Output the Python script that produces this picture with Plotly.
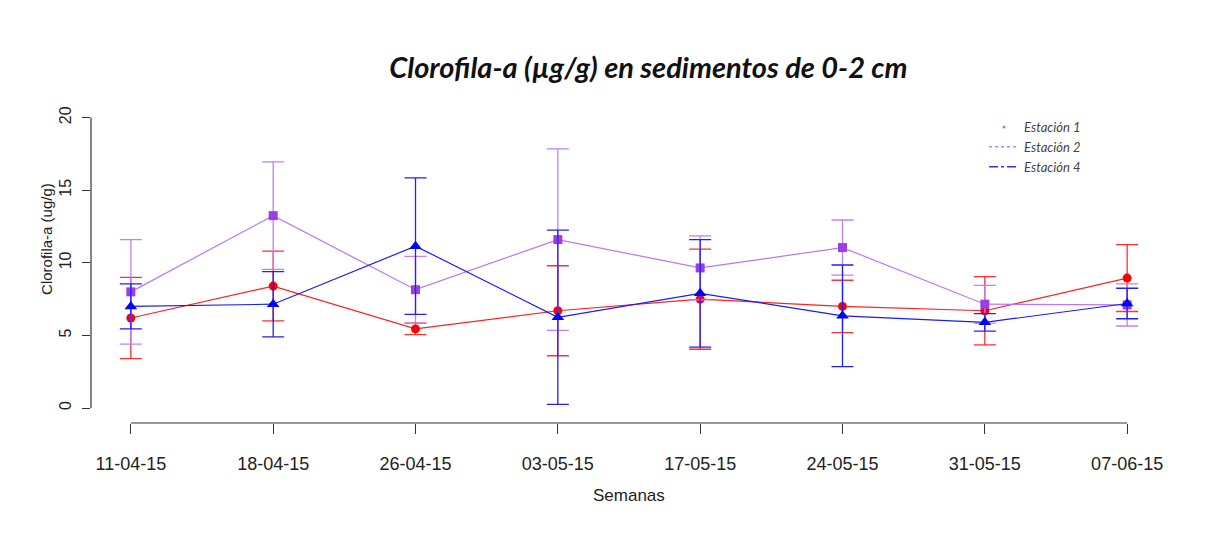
import plotly.graph_objects as go

# Weeks (x categories)
semanas = ['11-04-15', '18-04-15', '26-04-15', '03-05-15',
           '17-05-15', '24-05-15', '31-05-15', '07-06-15']

# Estación 1 - mean and error
est1_media = [6.2, 8.4, 5.45, 6.7, 7.5, 7.0, 6.7, 8.95]
est1_error = [2.8, 2.4, 0.4, 3.1, 3.45, 1.8, 2.35, 2.3]

# Estación 2 - mean and error
est2_media = [8.0, 13.25, 8.15, 11.6, 9.65, 11.05, 7.15, 7.1]
est2_error = [3.6, 3.7, 2.3, 6.25, 2.2, 1.9, 1.3, 1.45]

# Estación 4 - mean and error
est4_media = [7.0, 7.15, 11.15, 6.25, 7.9, 6.35, 5.9, 7.2]
est4_error = [1.55, 2.25, 4.7, 6.0, 3.7, 3.5, 0.6, 1.05]

y_ticks = [0, 5, 10, 15, 20]

AXIS_FONT = 'Liberation Sans, Arial, sans-serif'


# Helper to build one station trace with error bars
def station_trace(media, error, line_color, marker_color, err_color, symbol, size):
    return go.Scatter(
        x=semanas, y=media, mode='lines+markers', showlegend=False,
        line=dict(color=line_color, width=1.2),
        marker=dict(symbol=symbol, size=size, color=marker_color),
        error_y=dict(type='data', array=error, visible=True,
                     color=err_color, thickness=1.3, width=11),
    )


fig = go.Figure()

fig.add_trace(station_trace(est1_media, est1_error, '#FF2020', '#FF0000', '#FF3030', 'circle', 9))
fig.add_trace(station_trace(est2_media, est2_error, '#B877F5', '#9B3FE0', '#C27FFA', 'square', 9))
fig.add_trace(station_trace(est4_media, est4_error, '#1A1AFF', '#0000FF', '#2020FF', 'triangle-up', 11))

# Legend-only entries (line styles as in the original legend)
fig.add_trace(go.Scatter(x=[None], y=[None], mode='markers', name='Estación 1',
                         marker=dict(color='#E07090', size=3)))
fig.add_trace(go.Scatter(x=[None], y=[None], mode='lines', name='Estación 2',
                         line=dict(color='#C080F0', width=1.5, dash='dot')))
fig.add_trace(go.Scatter(x=[None], y=[None], mode='lines', name='Estación 4',
                         line=dict(color='#3030FF', width=1.5, dash='dashdot')))

# Detached R-style axis lines
fig.add_shape(type='line', xref='paper', yref='y', x0=0, x1=0,
              y0=y_ticks[0], y1=y_ticks[-1], line=dict(color='#333333', width=1.2))
fig.add_shape(type='line', xref='x', yref='paper', x0=semanas[0], x1=semanas[-1],
              y0=0, y1=0, line=dict(color='#333333', width=1.2))

# page body adds an 8px offset, margins compensate for it
fig.update_layout(
    width=1206, height=543,
    margin=dict(l=83, r=47, t=98, b=128),
    paper_bgcolor='white', plot_bgcolor='white',
    title=dict(text='<b><i>Clorofila-a (µg/g) en sedimentos de 0-2 cm</i></b>',
               x=0.531, xanchor='center', y=0.89, yanchor='middle', yref='container',
               font=dict(family='Lato, Open Sans, sans-serif', size=29, color='#111111')),
    legend=dict(x=0.83, y=0.981, xanchor='left', yanchor='top',
                bgcolor='rgba(0,0,0,0)', tracegroupgap=0,
                font=dict(family='Lato, Open Sans, sans-serif', size=13,
                          color='#444444', style='italic')),
    xaxis=dict(type='category', range=[-0.28, 7.28], showline=False,
               showgrid=False, zeroline=False, ticks='outside', ticklen=10,
               tickcolor='#333333', tickwidth=1.2, ticklabelstandoff=14,
               tickfont=dict(family=AXIS_FONT, size=18, color='#222222')),
    yaxis=dict(range=[-1.03, 20.8], tickvals=y_ticks, showline=False,
               showgrid=False, zeroline=False, ticks='outside', ticklen=8,
               tickcolor='#333333', tickwidth=1.2, tickangle=-90,
               ticklabelstandoff=5,
               tickfont=dict(family=AXIS_FONT, size=16, color='#222222')),
    annotations=[
        dict(text='Semanas', xref='paper', yref='paper', x=0.5, y=-0.23,
             xanchor='center', yanchor='middle', showarrow=False,
             font=dict(family=AXIS_FONT, size=17, color='#222222')),
        dict(text='Clorofila-a (ug/g)', xref='paper', yref='paper', x=-0.042, y=0.58,
             xanchor='center', yanchor='middle', textangle=-90, showarrow=False,
             font=dict(family=AXIS_FONT, size=15, color='#222222')),
    ],
)

fig.write_html("out.html")
